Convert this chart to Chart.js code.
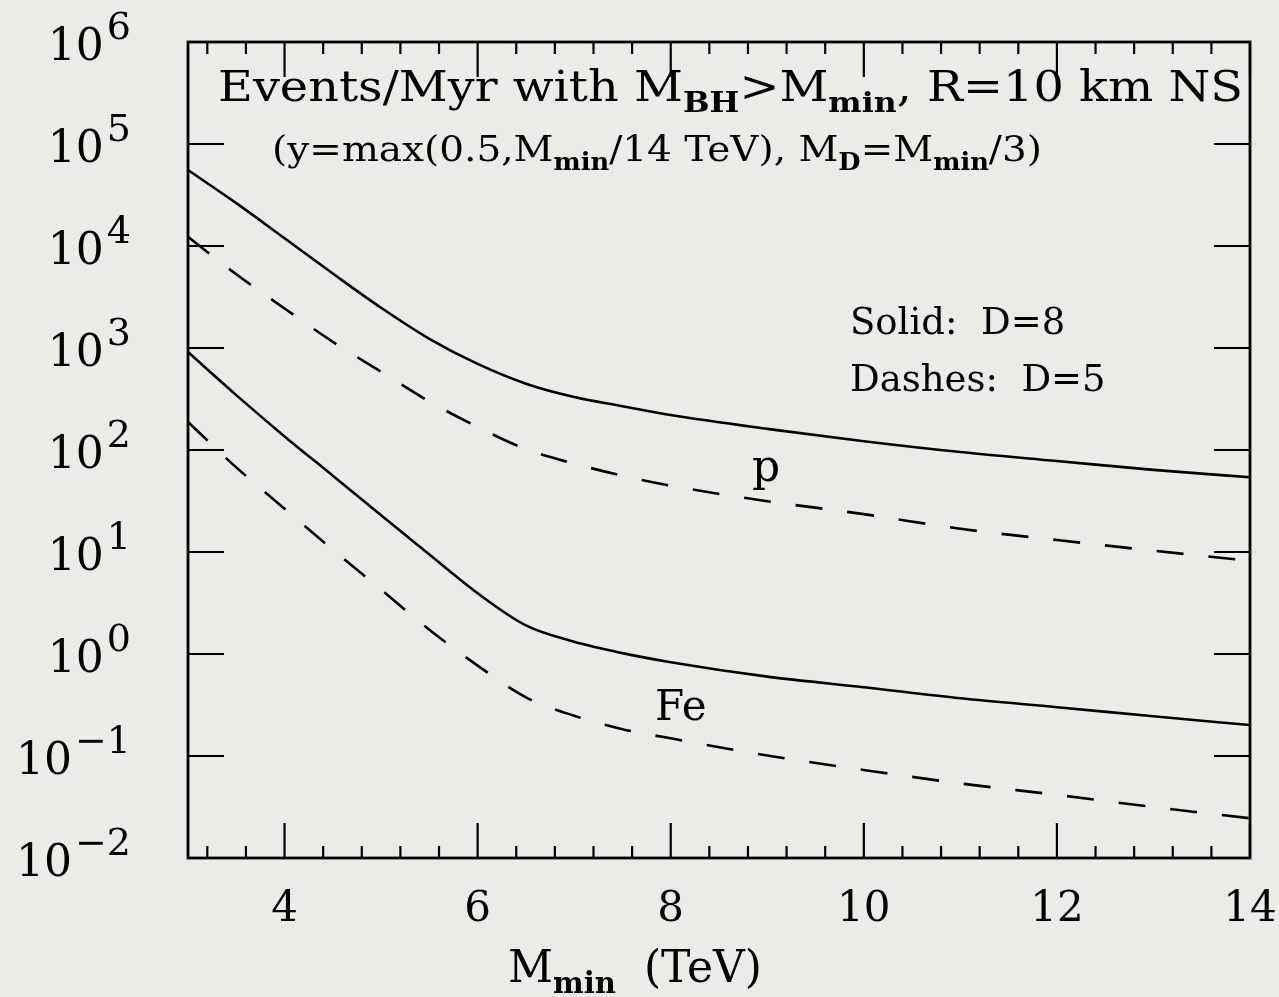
<!DOCTYPE html>
<html><head><meta charset="utf-8">
<script src="https://cdn.jsdelivr.net/npm/chart.js@4.4.0/dist/chart.umd.min.js"></script>
<style>html,body{margin:0;padding:0;background:#ebebe8;} #wrap{width:1279px;height:997px;}</style>
</head><body><div id="wrap"><canvas id="c" width="1279" height="997"></canvas></div>
<script>
// ---- data ----
const xVals = [3, 3.5, 4, 4.5, 5, 5.5, 6, 6.5, 7, 7.5, 8, 9, 10, 11, 12, 13, 14];
const pSolidD8 = [55600, 26300, 11900, 5370, 2480, 1230, 698, 447, 331, 269, 220, 161, 122, 95.5, 78, 63.8, 54];
const pDashD5 = [12300, 5280, 2440, 1150, 586, 299, 168, 102, 73.5, 56, 44.7, 31.5, 23.5, 16.9, 13.1, 10.3, 8.2];
const feSolidD8 = [912, 345, 136, 56, 22.9, 9.44, 3.94, 1.91, 1.32, 1.02, 0.83, 0.60, 0.472, 0.368, 0.301, 0.245, 0.201];
const feDashD5 = [188, 67.6, 26.5, 10.5, 4.28, 1.73, 0.77, 0.376, 0.248, 0.183, 0.149, 0.101, 0.073, 0.0538, 0.0416, 0.0316, 0.0245];

const xMajorTicks = [4, 6, 8, 10, 12, 14];
const xTickLabels = ['4', '6', '8', '10', '12', '14'];
const xMinorStep = 0.4;
const yMajorTicks = [1e-2, 1e-1, 1e0, 1e1, 1e2, 1e3, 1e4, 1e5, 1e6];
const yTickExponents = ['\u22122', '\u22121', '0', '1', '2', '3', '4', '5', '6'];

const SERIF = '"DejaVu Serif", "Liberation Serif", serif';
const BG = '#ebebe8';

function segFont(size, seg) {
  const f = seg.s === 'sub' ? 0.66 : (seg.s === 'sup' ? 0.88 : 1);
  return { font: (seg.b ? 'bold ' : '') + (size * f) + 'px ' + SERIF, dy: seg.s === 'sub' ? size * 0.26 : (seg.s === 'sup' ? -size * 0.45 : 0) };
}
function richWidth(ctx, segs, size) {
  let w = 0;
  for (const s of segs) { const f = segFont(size, s); ctx.font = f.font; w += ctx.measureText(s.t).width; }
  return w;
}
// draws rich text; optional target width -> horizontal scaling
function drawRich(ctx, segs, x, y, size, align, targetW) {
  const w = richWidth(ctx, segs, size);
  const sx = targetW ? targetW / w : 1;
  const W = w * sx;
  let x0 = align === 'center' ? x - W / 2 : (align === 'right' ? x - W : x);
  ctx.save();
  ctx.translate(x0, y); ctx.scale(sx, 1);
  ctx.textAlign = 'left'; ctx.textBaseline = 'alphabetic'; ctx.fillStyle = '#000';
  let cx = 0;
  for (const s of segs) {
    const f = segFont(size, s); ctx.font = f.font;
    ctx.fillText(s.t, cx, f.dy);
    cx += ctx.measureText(s.t).width;
  }
  ctx.restore();
}

const title1 = [{t:'Events/Myr with M'},{t:'BH',s:'sub',b:true},{t:'>M'},{t:'min',s:'sub',b:true},{t:', R=10 km NS'}];
const title2 = [{t:'(y=max(0.5,M'},{t:'min',s:'sub',b:true},{t:'/14 TeV), M'},{t:'D',s:'sub',b:true},{t:'=M'},{t:'min',s:'sub',b:true},{t:'/3)'}];
const xTitle = [{t:'M'},{t:'min',s:'sub',b:true},{t:'  (TeV)'}];

const frame = {
  id: 'frame',
  beforeDraw(chart) {
    const ctx = chart.ctx; ctx.save(); ctx.fillStyle = BG; ctx.fillRect(0, 0, chart.width, chart.height); ctx.restore();
  },
  afterDraw(chart) {
    const ctx = chart.ctx, xs = chart.scales.x, ys = chart.scales.y, a = chart.chartArea;
    ctx.save();
    ctx.strokeStyle = '#000'; ctx.lineCap = 'butt';
    ctx.lineWidth = 2.2;
    // x ticks (bottom & top, inward)
    for (let j = -2; j <= 25; j++) {
      const v = xMajorTicks[0] + xMinorStep * j;
      const px = xs.getPixelForValue(v);
      const major = xMajorTicks.some(m => Math.abs(m - v) < 1e-6);
      const len = major ? 35 : 12;
      ctx.beginPath();
      ctx.moveTo(px, a.bottom); ctx.lineTo(px, a.bottom - len);
      ctx.moveTo(px, a.top); ctx.lineTo(px, a.top + len);
      ctx.stroke();
    }
    // y ticks (left & right, inward)
    for (const v of yMajorTicks) {
      const py = ys.getPixelForValue(v);
      ctx.beginPath();
      ctx.moveTo(a.left, py); ctx.lineTo(a.left + 36, py);
      ctx.moveTo(a.right, py); ctx.lineTo(a.right - 36, py);
      ctx.stroke();
    }
    // frame
    ctx.lineWidth = 2.8;
    ctx.strokeRect(a.left, a.top, a.right - a.left, a.bottom - a.top);

    // x tick labels
    xMajorTicks.forEach((v, i) => {
      drawRich(ctx, [{t: xTickLabels[i]}], xs.getPixelForValue(v), a.bottom + 63, 42, 'center');
    });
    // y tick labels 10^n
    yMajorTicks.forEach((v, i) => {
      const py = ys.getPixelForValue(v);
      ctx.font = '38px ' + SERIF;
      const we = ctx.measureText(yTickExponents[i]).width;
      ctx.fillStyle = '#000'; ctx.textBaseline = 'alphabetic'; ctx.textAlign = 'left';
      const right = 131;
      ctx.fillText(yTickExponents[i], right - we, py - 3);
      ctx.font = '44px ' + SERIF;
      const wb = ctx.measureText('10').width;
      ctx.fillText('10', right - we - 3 - wb, py + 18);
    });

    // titles and annotations
    drawRich(ctx, title1, 218, 101, 42, 'left', 1025);
    drawRich(ctx, title2, 272, 161, 36, 'left', 770);
    drawRich(ctx, [{t:'Solid:  D=8'}], 850, 334, 37, 'left');
    drawRich(ctx, [{t:'Dashes:  D=5'}], 850, 391, 37, 'left');
    drawRich(ctx, [{t:'p'}], 752, 481, 44, 'left');
    drawRich(ctx, [{t:'Fe'}], 655, 720, 42, 'left');
    drawRich(ctx, xTitle, 635, 982, 44, 'center');
    ctx.restore();
  }
};

const mk = (arr) => xVals.map((x, i) => ({ x: x, y: arr[i] }));

new Chart(document.getElementById('c'), {
  type: 'line',
  data: {
    datasets: [
      { label: 'p, D=8', data: mk(pSolidD8) },
      { label: 'p, D=5', data: mk(pDashD5), borderDash: [27, 25] },
      { label: 'Fe, D=8', data: mk(feSolidD8) },
      { label: 'Fe, D=5', data: mk(feDashD5), borderDash: [27, 25] }
    ]
  },
  options: {
    responsive: false, animation: false,
    layout: { padding: { left: 188, right: 29, top: 42, bottom: 139 } },
    plugins: { legend: { display: false }, tooltip: { enabled: false } },
    scales: {
      x: { type: 'linear', min: 3, max: 14, display: false },
      y: { type: 'logarithmic', min: 0.01, max: 1e6, display: false }
    },
    elements: {
      point: { radius: 0 },
      line: { borderWidth: 2.6, borderColor: '#000', cubicInterpolationMode: 'monotone', fill: false }
    }
  },
  plugins: [frame]
});
</script>
</body></html>
